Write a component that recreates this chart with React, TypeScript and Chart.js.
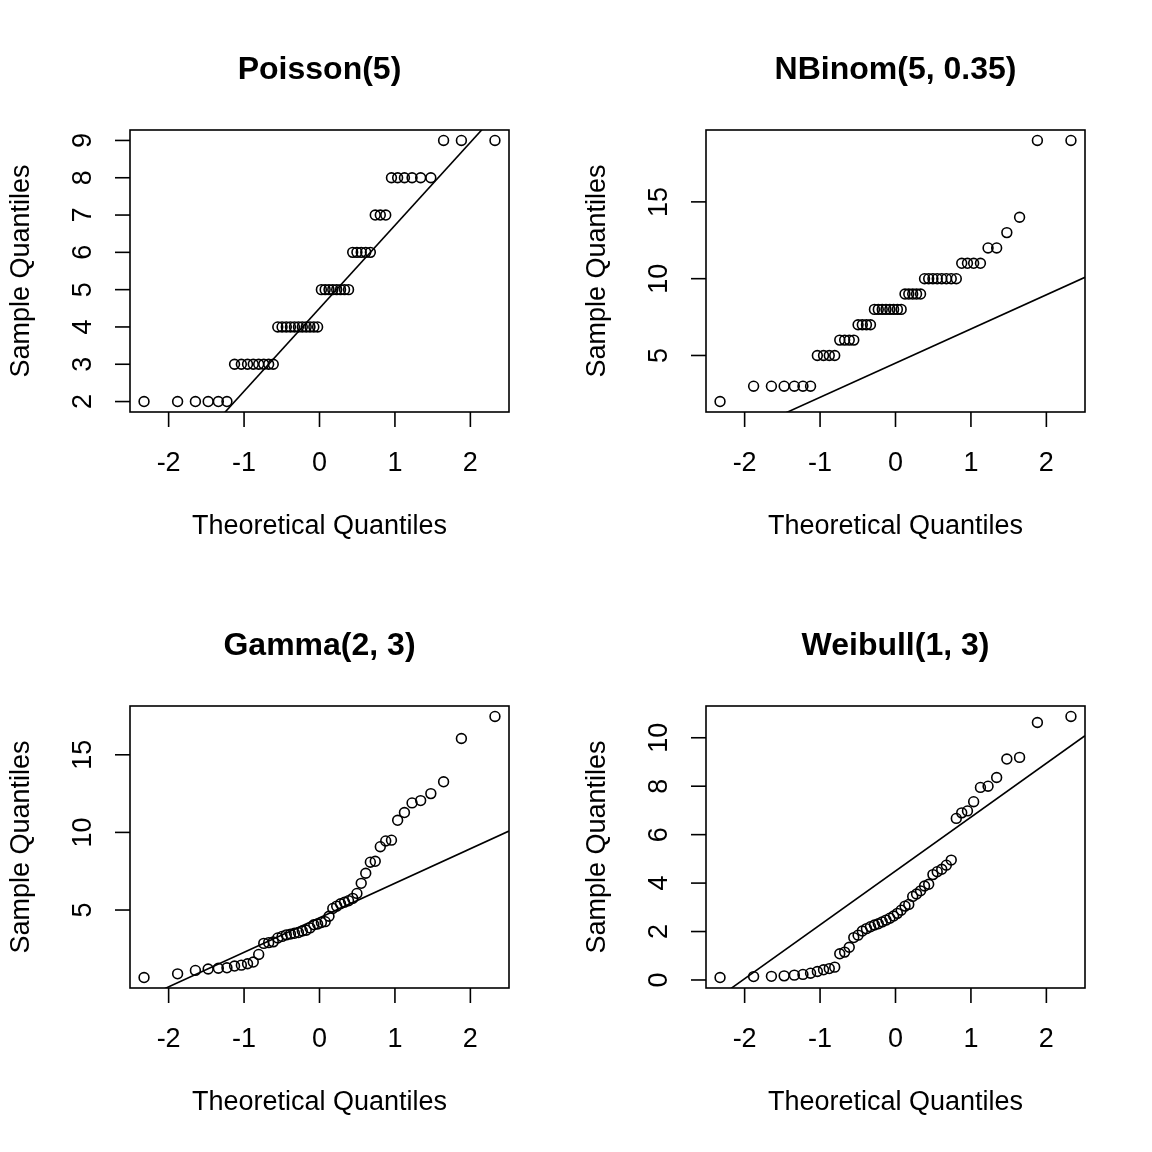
import React, { useEffect, useRef } from "react";
import { Chart, registerables } from "chart.js";

Chart.register(...registerables);

// Theoretical normal quantiles (n = 50), read from the x positions
const THEO = [
  -2.326, -1.881, -1.645, -1.476, -1.341, -1.227, -1.126, -1.036, -0.954, -0.878,
  -0.806, -0.739, -0.674, -0.613, -0.553, -0.496, -0.44, -0.385, -0.332, -0.279,
  -0.228, -0.176, -0.126, -0.075, -0.025, 0.025, 0.075, 0.126, 0.176, 0.228,
  0.279, 0.332, 0.385, 0.44, 0.496, 0.553, 0.613, 0.674, 0.739, 0.806,
  0.878, 0.954, 1.036, 1.126, 1.227, 1.341, 1.476, 1.645, 1.881, 2.326,
];

const X_TICKS = [-2, -1, 0, 1, 2];

const POISSON = [
  2, 2, 2, 2, 2, 2, 3, 3, 3, 3, 3, 3, 3, 3, 4, 4, 4, 4, 4, 4, 4, 4, 4, 4, 4,
  5, 5, 5, 5, 5, 5, 5, 5, 6, 6, 6, 6, 6, 7, 7, 7, 8, 8, 8, 8, 8, 8, 9, 9, 9,
];
const POISSON_TICKS = [2, 3, 4, 5, 6, 7, 8, 9];
const POISSON_LINE = [4.5, 2.224]; // intercept, slope

const NBINOM = [
  2, 3, 3, 3, 3, 3, 3, 5, 5, 5, 5, 6, 6, 6, 6, 7, 7, 7, 7, 8, 8, 8, 8, 8, 8,
  8, 8, 9, 9, 9, 9, 9, 10, 10, 10, 10, 10, 10, 10, 10, 11, 11, 11, 11, 12, 12, 13, 14, 19, 19,
];
const NBINOM_TICKS = [5, 10, 15];
const NBINOM_LINE = [4.5, 2.224];

const GAMMA = [
  0.65, 0.89, 1.11, 1.2, 1.25, 1.28, 1.39, 1.45, 1.54, 1.65,
  2.14, 2.85, 2.9, 2.95, 3.2, 3.3, 3.4, 3.45, 3.5, 3.55,
  3.65, 3.7, 3.85, 4.05, 4.1, 4.2, 4.25, 4.6, 5.1, 5.25,
  5.4, 5.5, 5.6, 5.75, 6.07, 6.72, 7.37, 8.08, 8.14, 9.08,
  9.45, 9.5, 10.78, 11.28, 11.9, 12.05, 12.5, 13.26, 16.05, 17.47,
];
const GAMMA_TICKS = [5, 10, 15];
const GAMMA_LINE = [4.5, 2.224];

const WEIBULL = [
  0.1, 0.14, 0.15, 0.17, 0.2, 0.23, 0.28, 0.35, 0.42, 0.47,
  0.53, 1.08, 1.15, 1.35, 1.75, 1.85, 2.02, 2.12, 2.2, 2.27,
  2.32, 2.4, 2.47, 2.55, 2.64, 2.75, 2.88, 3.05, 3.12, 3.45,
  3.55, 3.68, 3.88, 3.95, 4.35, 4.47, 4.57, 4.74, 4.95, 6.67,
  6.9, 6.98, 7.36, 7.95, 8.0, 8.36, 9.12, 9.19, 10.63, 10.88,
];
const WEIBULL_TICKS = [0, 2, 4, 6, 8, 10];
const WEIBULL_LINE = [4.5, 2.224];

const TITLES = ["Poisson(5)", "NBinom(5, 0.35)", "Gamma(2, 3)", "Weibull(1, 3)"];
const X_TITLE = "Theoretical Quantiles";
const Y_TITLE = "Sample Quantiles";

const FONT = '"Liberation Sans", Arial, Helvetica, sans-serif';
const LW = 1.6;

function extendRange(vals: number[]): [number, number] {
  const mn = Math.min(...vals);
  const mx = Math.max(...vals);
  const d = (mx - mn) * 0.04;
  return [mn - d, mx + d];
}

const rStylePlugin = {
  id: "rstyle",
  afterDraw(chart: any) {
    const { ctx, chartArea, scales } = chart;
    const { left, right, top, bottom } = chartArea;
    const o = chart.options.plugins.rstyle;
    const xs = scales.x;
    const ys = scales.y;
    ctx.save();
    ctx.strokeStyle = "#000";
    ctx.fillStyle = "#000";
    ctx.lineWidth = LW;
    ctx.strokeRect(left, top, right - left, bottom - top);

    // x axis ticks + labels
    ctx.font = `27px ${FONT}`;
    ctx.textAlign = "center";
    ctx.textBaseline = "alphabetic";
    for (const t of X_TICKS) {
      const px = xs.getPixelForValue(t);
      ctx.beginPath();
      ctx.moveTo(px, bottom);
      ctx.lineTo(px, bottom + 15);
      ctx.stroke();
      ctx.fillText(String(t), px, bottom + 59);
    }
    ctx.fillText(X_TITLE, (left + right) / 2, bottom + 122);

    // y axis ticks + rotated labels
    for (const t of o.yTicks as number[]) {
      const py = ys.getPixelForValue(t);
      ctx.beginPath();
      ctx.moveTo(left, py);
      ctx.lineTo(left - 15, py);
      ctx.stroke();
      ctx.save();
      ctx.translate(left - 39, py);
      ctx.rotate(-Math.PI / 2);
      ctx.fillText(String(t), 0, 0);
      ctx.restore();
    }
    ctx.save();
    ctx.translate(left - 101, (top + bottom) / 2);
    ctx.rotate(-Math.PI / 2);
    ctx.fillText(Y_TITLE, 0, 0);
    ctx.restore();

    // main title
    ctx.font = `bold 32px ${FONT}`;
    ctx.fillText(o.title, (left + right) / 2, top - 51);
    ctx.restore();
  },
};

function QQPanel(props: {
  title: string;
  values: number[];
  yTicks: number[];
  line: number[];
  x: number;
  y: number;
}) {
  const ref = useRef<HTMLCanvasElement | null>(null);
  useEffect(() => {
    if (!ref.current) return;
    const [xmin, xmax] = extendRange(THEO);
    const [ymin, ymax] = extendRange(props.values);
    const [a, b] = props.line;
    const pts = THEO.map((q, i) => ({ x: q, y: props.values[i] }));
    const chart = new Chart(ref.current, {
      type: "scatter",
      data: {
        datasets: [
          {
            data: [
              { x: xmin, y: a + b * xmin },
              { x: xmax, y: a + b * xmax },
            ],
            showLine: true,
            borderColor: "#000",
            borderWidth: LW,
            pointRadius: 0,
            fill: false,
          } as any,
          {
            data: pts,
            pointStyle: "circle",
            pointRadius: 4.9,
            pointBorderWidth: LW,
            borderColor: "#000",
            backgroundColor: "rgba(0,0,0,0)",
            pointBackgroundColor: "rgba(0,0,0,0)",
            pointBorderColor: "#000",
          } as any,
        ],
      },
      options: {
        responsive: false,
        devicePixelRatio: 1,
        animation: false,
        events: [],
        layout: { padding: { left: 130, right: 67, top: 130, bottom: 164 } },
        scales: {
          x: { type: "linear", min: xmin, max: xmax, display: false },
          y: { type: "linear", min: ymin, max: ymax, display: false },
        },
        plugins: {
          legend: { display: false },
          tooltip: { enabled: false },
          title: { display: false },
          rstyle: { title: props.title, yTicks: props.yTicks },
        } as any,
      },
      plugins: [rStylePlugin],
    });
    return () => chart.destroy();
  }, []);
  return (
    <canvas
      ref={ref}
      width={576}
      height={576}
      style={{ position: "absolute", left: props.x, top: props.y, width: 576, height: 576 }}
    />
  );
}

export default function App() {
  return (
    <div
      style={{
        position: "absolute",
        left: 0,
        top: 0,
        width: 1152,
        height: 1152,
        background: "#fff",
      }}
    >
      <QQPanel title={TITLES[0]} values={POISSON} yTicks={POISSON_TICKS} line={POISSON_LINE} x={0} y={0} />
      <QQPanel title={TITLES[1]} values={NBINOM} yTicks={NBINOM_TICKS} line={NBINOM_LINE} x={576} y={0} />
      <QQPanel title={TITLES[2]} values={GAMMA} yTicks={GAMMA_TICKS} line={GAMMA_LINE} x={0} y={576} />
      <QQPanel title={TITLES[3]} values={WEIBULL} yTicks={WEIBULL_TICKS} line={WEIBULL_LINE} x={576} y={576} />
    </div>
  );
}
